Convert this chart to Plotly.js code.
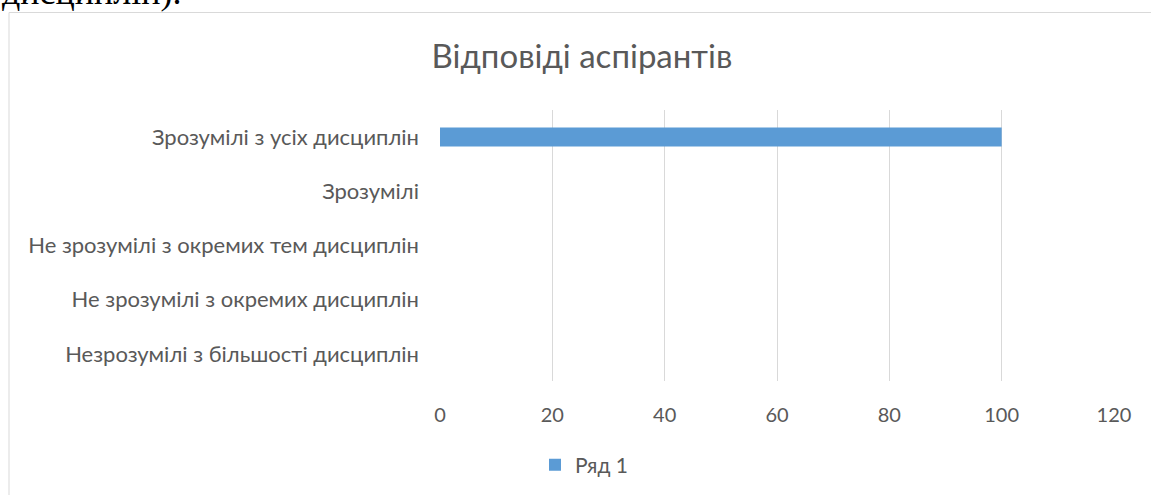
<!DOCTYPE html>
<html>
<head>
<meta charset="utf-8">
<script src="https://cdn.plot.ly/plotly-3.0.1.min.js"></script>
<style>
html,body{margin:0;padding:0;background:#fff;}
#chart{width:1151px;height:495px;}
</style>
</head>
<body>
<div id="chart"></div>
<script>
var categories = [
  "Незрозумілі з більшості дисциплін",
  "Не зрозумілі з окремих дисциплін",
  "Не зрозумілі з окремих тем дисциплін",
  "Зрозумілі",
  "Зрозумілі з усіх дисциплін"
];
var values = [0, 0, 0, 0, 100];
var seriesName = "Ряд 1";
var titleText = "Відповіді аспірантів";
var xTicks = [0, 20, 40, 60, 80, 100, 120];
var docText = "дисциплін).";

var font = "Lato, 'Open Sans', sans-serif";
var grey = "#595959";

var trace = {
  type: "bar",
  orientation: "h",
  y: categories,
  x: values,
  name: seriesName,
  marker: {color: "#5B9BD5"},
  showlegend: true,
  hoverinfo: "x+y"
};

var layout = {
  width: 1151,
  height: 495,
  margin: {l: 440, r: 37, t: 110, b: 114},
  paper_bgcolor: "#ffffff",
  plot_bgcolor: "#ffffff",
  bargap: 0.65,
  title: {
    text: titleText,
    font: {family: font, size: 33, color: grey},
    x: 0.5056, xref: "container", xanchor: "center",
    y: 1 - 56 / 495, yref: "container", yanchor: "middle"
  },
  xaxis: {
    range: [0, 120],
    tickvals: xTicks,
    ticktext: xTicks.map(String),
    showgrid: true,
    gridcolor: "#d9d9d9",
    gridwidth: 1,
    zeroline: false,
    showline: false,
    ticks: "",
    ticklabelstandoff: 20,
    tickfont: {family: font, size: 20, color: grey},
    fixedrange: true
  },
  yaxis: {
    type: "category",
    categoryorder: "array",
    categoryarray: categories,
    showgrid: false,
    zeroline: false,
    showline: false,
    ticks: "",
    ticklabelstandoff: 20,
    tickfont: {family: font, size: 22, color: grey},
    fixedrange: true
  },
  legend: {
    orientation: "h",
    x: 535 / 1151, xref: "container", xanchor: "left",
    y: 1 - 465 / 495, yref: "container", yanchor: "middle",
    font: {family: font, size: 21, color: grey},
    itemwidth: 30
  },
  shapes: [{
    type: "rect", xref: "paper", yref: "paper",
    x0: (9 - 440) / 674, x1: (1153 - 440) / 674,
    y0: -0.6, y1: (381 - 12.5) / 271,
    line: {color: "#d9d9d9", width: 1},
    fillcolor: "rgba(0,0,0,0)",
    layer: "below"
  }],
  annotations: [{
    text: docText,
    xref: "paper", yref: "paper",
    x: (0 - 440) / 674, xanchor: "left",
    y: (381 - 14) / 271, yanchor: "bottom",
    showarrow: false,
    font: {family: "'Liberation Serif', 'Times New Roman', serif", size: 36, color: "#000000"}
  }]
};

Plotly.newPlot("chart", [trace], layout, {displayModeBar: false});
</script>
</body>
</html>
